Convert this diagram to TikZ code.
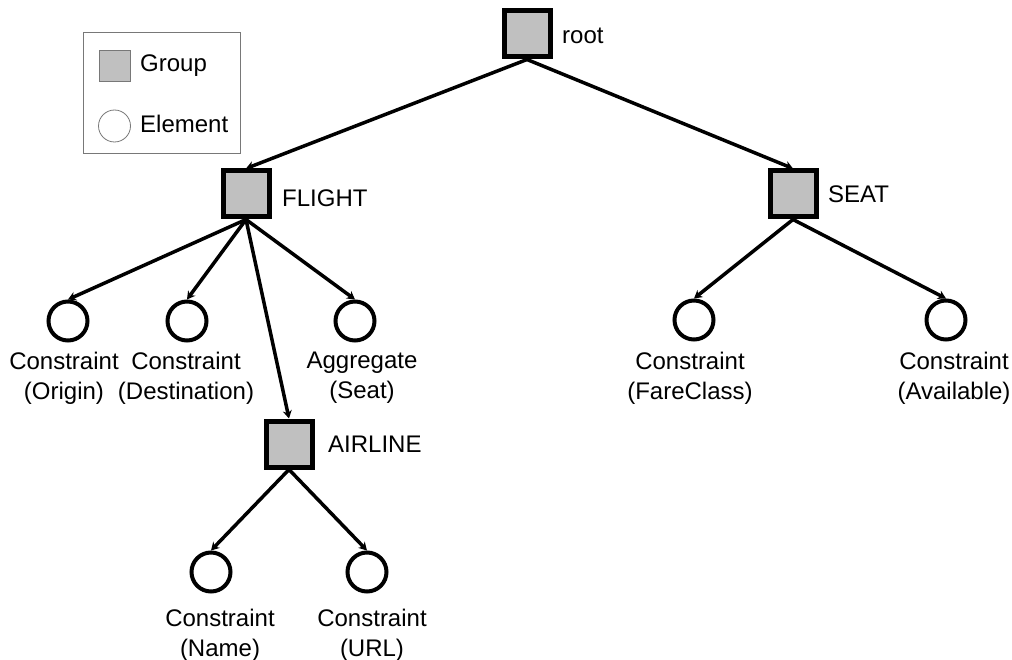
\documentclass[tikz,border=0pt]{standalone}
\usepackage{fontspec}
\setmainfont{Liberation Sans}
\usetikzlibrary{arrows.meta}
\definecolor{groupfill}{RGB}{192,192,192}
\definecolor{legendline}{RGB}{120,120,120}
\tikzset{
  group/.style={draw=black, fill=groupfill, line width=5pt, rectangle,
    minimum size=46pt, inner sep=0pt},
  element/.style={draw=black, fill=white, line width=4pt, circle,
    minimum size=39pt, inner sep=0pt},
  txt/.style={font=\fontsize{24}{30}\selectfont, inner sep=0pt, text=black},
  lbl/.style={txt, align=center},
  edge/.style={line width=3.5pt, -{Stealth[length=8pt,width=9pt]}},
}
\begin{document}
\begin{tikzpicture}[x=1pt, y=-1pt]
  \useasboundingbox (0,0) rectangle (1012,660);

  % legend
  \draw[legendline, line width=1pt] (83,33) rectangle (240,154);
  \node[draw=legendline, fill=groupfill, line width=1pt, minimum size=31pt,
        inner sep=0pt] (lgroup) at (114.5,66) {};
  \node[txt, anchor=west] (lgrouptxt) at (140,66) {Group};
  \node[draw=legendline, fill=white, line width=0.8pt, circle, minimum size=32pt,
        inner sep=0pt] (lelem) at (114.5,126) {};
  \node[txt, anchor=west] (lelemtxt) at (140,124) {Element};

  % groups
  \node[group] (root) at (527,34) {};
  \node[group] (flight) at (246,194) {};
  \node[group] (seat) at (793,194) {};
  \node[group] (airline) at (289,444) {};

  \node[txt, anchor=west] (roottxt) at (562,36) {root};
  \node[txt, anchor=west] (flighttxt) at (282,198) {FLIGHT};
  \node[txt, anchor=west] (seattxt) at (828,194) {SEAT};
  \node[txt, anchor=west] (airlinetxt) at (328,444) {AIRLINE};

  % elements
  \node[element] (origin) at (68,321) {};
  \node[element] (dest) at (187,321) {};
  \node[element] (aggr) at (355,321) {};
  \node[element] (fare) at (694,320) {};
  \node[element] (avail) at (946,320) {};
  \node[element] (name) at (211,572) {};
  \node[element] (url) at (367,572) {};

  \node[lbl] (origintxt) at (64,378) {Constraint\\(Origin)};
  \node[lbl] (desttxt) at (186,378) {Constraint\\(Destination)};
  \node[lbl] (aggrtxt) at (362,378) {Aggregate\\(Seat)};
  \node[lbl] (faretxt) at (690,378) {Constraint\\(FareClass)};
  \node[lbl] (availtxt) at (954,378) {Constraint\\(Available)};
  \node[lbl] (nametxt) at (220,635) {Constraint\\(Name)};
  \node[lbl] (urltxt) at (372,635) {Constraint\\(URL)};

  % edges
  \draw[edge] (root.south) -- (flight.north);
  \draw[edge] (root.south) -- (seat.north);
  \draw[edge] (flight.south) -- (origin.north);
  \draw[edge] (flight.south) -- (dest.north);
  \draw[edge] (flight.south) -- (aggr.north);
  \draw[edge] (flight.south) -- (airline.north);
  \draw[edge] (seat.south) -- (fare.north);
  \draw[edge] (seat.south) -- (avail.north);
  \draw[edge] (airline.south) -- (name.north);
  \draw[edge] (airline.south) -- (url.north);
\end{tikzpicture}
\end{document}
